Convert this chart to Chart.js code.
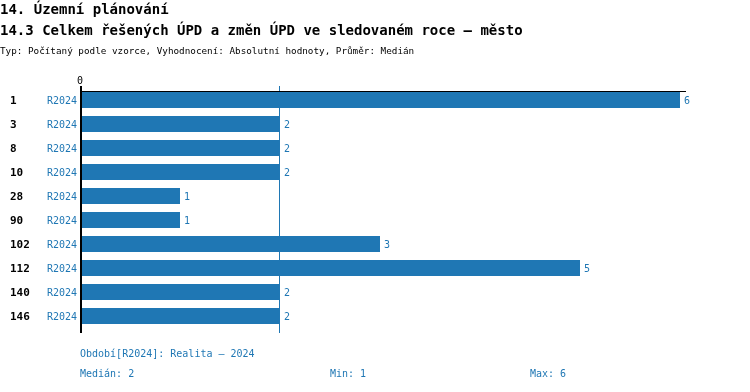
<!DOCTYPE html>
<html>
<head>
<meta charset="utf-8">
<script src="https://cdn.jsdelivr.net/npm/chart.js@4"></script>
<style>
  body { margin: 0; background: #fff; }
  #wrap { position: relative; width: 750px; height: 392px; font-family: "DejaVu Sans Mono", monospace; }
  #wrap canvas { position: absolute; left: 0; top: 0; }
  .t { position: absolute; white-space: pre; left: 0; }
  .h { font-weight: bold; font-size: 14px; line-height: 14px; color: #000; }
  .sub { font-size: 9.3px; line-height: 11px; color: #000; }
  .f { font-size: 10px; line-height: 12px; color: #1f77b4; }
</style>
</head>
<body>
<div id="wrap">
  <canvas id="bar" width="750" height="392"></canvas>
  <div class="t h" style="top:2px">14. Územní plánování</div>
  <div class="t h" style="top:23px">14.3 Celkem řešených ÚPD a změn ÚPD ve sledovaném roce – město</div>
  <div class="t sub" style="top:45px">Typ: Počítaný podle vzorce, Vyhodnocení: Absolutní hodnoty, Průměr: Medián</div>
  <div class="t f" id="period" style="top:348px;left:80px"></div>
  <div class="t f" id="med" style="top:368px;left:80px"></div>
  <div class="t f" id="min" style="top:368px;left:330px"></div>
  <div class="t f" id="max" style="top:368px;left:530px"></div>
</div>
<script>
const categories = ["1", "3", "8", "10", "28", "90", "102", "112", "140", "146"];
const values = [6, 2, 2, 2, 1, 1, 3, 5, 2, 2];
const periodName = "R2024";
const periodLabel = "Realita – 2024";

const blue = "#1f77b4";
const sorted = [...values].sort((a, b) => a - b);
const mid = Math.floor(sorted.length / 2);
const median = sorted.length % 2 ? sorted[mid] : (sorted[mid - 1] + sorted[mid]) / 2;
const minVal = sorted[0];
const maxVal = sorted[sorted.length - 1];

document.querySelector("#period").textContent = "Období[" + periodName + "]: " + periodLabel;
document.querySelector("#med").textContent = "Medián: " + median;
document.querySelector("#min").textContent = "Min: " + minVal;
document.querySelector("#max").textContent = "Max: " + maxVal;

// axis lines, median line, labels
const decor = {
  id: "decor",
  afterDatasetsDraw(chart) {
    const ctx = chart.ctx;
    const x = chart.scales.x;
    const y = chart.scales.y;
    const area = chart.chartArea;
    const x0 = x.getPixelForValue(0);
    ctx.save();
    // median line
    ctx.strokeStyle = blue;
    ctx.lineWidth = 1;
    const xm = Math.round(x.getPixelForValue(median)) - 0.5;
    ctx.beginPath();
    ctx.moveTo(xm, area.top - 2);
    ctx.lineTo(xm, area.bottom + 5);
    ctx.stroke();
    // top line
    ctx.strokeStyle = "#000";
    ctx.beginPath();
    ctx.moveTo(x0, area.top + 3.5);
    ctx.lineTo(x.getPixelForValue(maxVal) + 6, area.top + 3.5);
    ctx.stroke();
    // zero axis
    ctx.lineWidth = 2;
    ctx.beginPath();
    ctx.moveTo(x0 + 1, area.top - 2);
    ctx.lineTo(x0 + 1, area.bottom + 5);
    ctx.stroke();
    // zero tick
    ctx.font = "10px 'DejaVu Sans Mono'";
    ctx.fillStyle = "#000";
    ctx.textAlign = "center";
    ctx.textBaseline = "middle";
    ctx.fillText("0", x0, area.top - 7);
    // row labels
    categories.forEach((c, i) => {
      const yc = y.getPixelForValue(i);
      ctx.font = "bold 11px 'DejaVu Sans Mono'";
      ctx.fillStyle = "#000";
      ctx.textAlign = "left";
      ctx.fillText(c, 10, yc + 1);
      ctx.font = "10px 'DejaVu Sans Mono'";
      ctx.fillStyle = blue;
      ctx.textAlign = "right";
      ctx.fillText(periodName, x0 - 3, yc + 1);
      ctx.textAlign = "left";
      ctx.fillText(String(values[i]), x.getPixelForValue(values[i]) + 4, yc + 1);
    });
    ctx.restore();
  },
};

const barCanvas = document.querySelector("#bar");

const bar = new Chart(barCanvas, {
  type: "bar",
  plugins: [decor],
  options: {
    indexAxis: "y",
    responsive: false,
    animation: false,
    layout: {
      padding: { left: 80, right: 20, top: 88, bottom: 64 },
    },
    plugins: {
      legend: { display: false },
      tooltip: { enabled: false },
    },
    scales: {
      x: { display: false, min: 0, max: 6.5 },
      y: { display: false },
    },
  },
  data: {
    labels: categories,
    datasets: [
      {
        label: periodName,
        data: values,
        backgroundColor: blue,
        categoryPercentage: 1,
        barPercentage: 16 / 24,
      },
    ],
  },
});
</script>
</body>
</html>
